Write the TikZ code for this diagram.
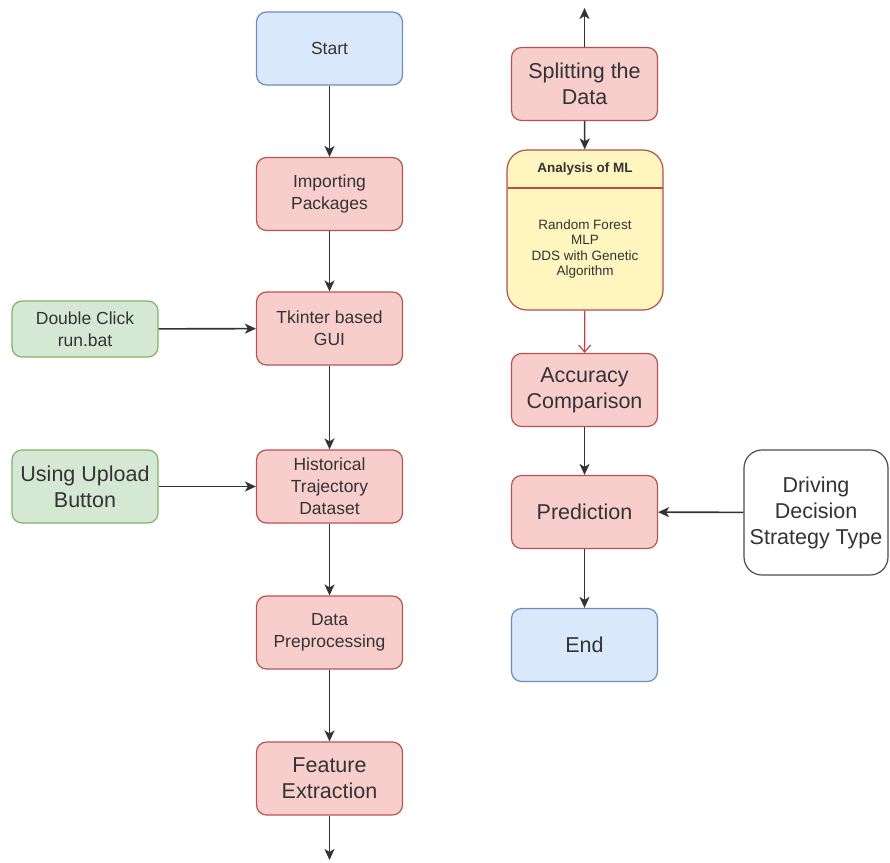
\documentclass[tikz,border=0pt]{standalone}
\usepackage{fontspec}
\setmainfont{Liberation Sans}
\usetikzlibrary{arrows.meta}
\definecolor{redfill}{HTML}{F8CECC}
\definecolor{redline}{HTML}{B85450}
\definecolor{bluefill}{HTML}{DAE8FC}
\definecolor{blueline}{HTML}{6C8EBF}
\definecolor{greenfill}{HTML}{D5E8D4}
\definecolor{greenline}{HTML}{82B366}
\definecolor{yelfill}{HTML}{FFF5BF}
\definecolor{yelline}{HTML}{B0504A}
\definecolor{redarrow}{HTML}{C8404A}
\definecolor{txt}{HTML}{333333}
\tikzset{
  base/.style={draw, rounded corners=10pt, line width=1.2pt, align=center, text=txt,
    inner sep=2pt, minimum width=146pt, minimum height=73pt},
  smalltxt/.style={font=\fontsize{17.5}{22}\selectfont},
  largetxt/.style={font=\fontsize{21.5}{26}\selectfont},
  redbox/.style={base, fill=redfill, draw=redline},
  bluebox/.style={base, fill=bluefill, draw=blueline},
  greenbox/.style={base, fill=greenfill, draw=greenline},
  whitebox/.style={base, fill=white, draw=black!70, rounded corners=18pt},
  arr/.style={draw=txt, line width=1.6pt, -{Stealth[length=11pt,width=10pt,inset=3pt]}},
  redarr/.style={draw=redarrow, line width=1.2pt, -{Straight Barb[length=7pt,width=12pt]}},
}
\begin{document}
\begin{tikzpicture}[x=1pt,y=-1pt]
\useasboundingbox[fill=white] (0,0) rectangle (890,862);

% left column
\node[bluebox, smalltxt] (start) at (329.5,48.5) {Start};
\node[redbox, smalltxt] (imp) at (329.5,194) {Importing\\Packages};
\node[redbox, smalltxt] (tk) at (329.5,328.5) {Tkinter based\\GUI};
\node[redbox, smalltxt] (hist) at (329.5,486.5) {Historical\\Trajectory\\Dataset};
\node[redbox, smalltxt] (pre) at (329.5,632.5) {Data\\Preprocessing};
\node[redbox, largetxt] (feat) at (329.5,778.5) {Feature\\Extraction};
\coordinate (fend) at (329.5,860);

\node[greenbox, smalltxt, minimum height=56pt] (dbl) at (85,329) {Double Click\\run.bat};
\node[greenbox, largetxt] (upl) at (85,486.5) {Using Upload\\Button};

% right column
\node[redbox, largetxt] (split) at (584.5,84) {Splitting the\\Data};
\coordinate (stop) at (584.5,8);
\node[draw=yelline, fill=yelfill, line width=1.2pt, rounded corners=20pt,
      minimum width=156pt, minimum height=160pt, inner sep=0pt] (ml) at (585,230) {};
\draw[draw=yelline, line width=1.2pt] (507.5,188) -- (662.5,188);
\node[text=txt, font=\bfseries\fontsize{13.5}{16}\selectfont] (mlhead) at (585,169) {Analysis of ML};
\node[text=txt, align=center, font=\fontsize{13.5}{15.5}\selectfont] (mlbody) at (585,249)
  {Random Forest\\MLP\\DDS with Genetic\\Algorithm};
\node[redbox, largetxt] (acc) at (584.5,390) {Accuracy\\Comparison};
\node[redbox, largetxt] (pred) at (584.5,512) {Prediction};
\node[bluebox, largetxt] (fin) at (584.5,645) {End};
\node[whitebox, largetxt, minimum width=144pt, minimum height=125pt] (drv) at (816,512.5)
  {Driving\\Decision\\Strategy Type};

% connectors
\draw[arr] (start) -- (imp);
\draw[arr] (imp) -- (tk);
\draw[arr] (tk) -- (hist);
\draw[arr] (hist) -- (pre);
\draw[arr] (pre) -- (feat);
\draw[arr] (feat) -- (fend);
\draw[arr] (dbl) -- (tk);
\draw[arr] (upl) -- (hist);
\draw[arr] (split) -- (stop);
\draw[arr] (split) -- (ml);
\draw[redarr] (ml) -- (acc);
\draw[arr] (acc) -- (pred);
\draw[arr] (pred) -- (fin);
\draw[arr] (drv) -- (pred);
\end{tikzpicture}
\end{document}
